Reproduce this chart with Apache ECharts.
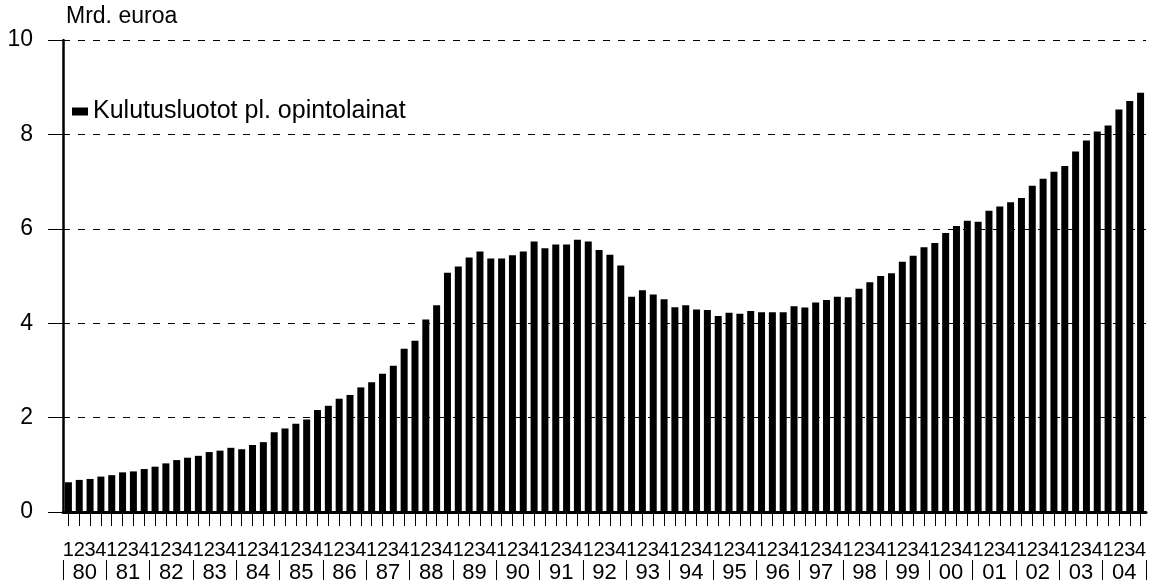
<!DOCTYPE html>
<html>
<head>
<meta charset="utf-8">
<title>Kulutusluotot</title>
<script src="https://cdn.jsdelivr.net/npm/echarts@6/dist/echarts.min.js"></script>
<style>
  html, body { margin: 0; padding: 0; background: #fff; }
  #chart { width: 1152px; height: 584px; }
</style>
</head>
<body>
<div id="chart"></div>
<script>
const years = ['80', '81', '82', '83', '84', '85', '86', '87', '88', '89', '90', '91', '92',
  '93', '94', '95', '96', '97', '98', '99', '00', '01', '02', '03', '04'];
const quarters = ['1', '2', '3', '4'];
const seriesName = 'Kulutusluotot pl. opintolainat';

// mrd. euroa, quarterly 1980Q1 .. 2004Q4
const values = [
  0.63, 0.68, 0.70, 0.75,  0.78, 0.84, 0.86, 0.91,  0.96, 1.03, 1.10, 1.15,  1.19, 1.27, 1.30, 1.36,
  1.33, 1.42, 1.48, 1.69,  1.77, 1.87, 1.96, 2.16,  2.25, 2.40, 2.48, 2.64,  2.75, 2.93, 3.10, 3.46,
  3.63, 4.08, 4.38, 5.07,  5.20, 5.39, 5.52, 5.37,  5.37, 5.44, 5.52, 5.73,  5.59, 5.67, 5.67, 5.77,
  5.73, 5.55, 5.45, 5.22,  4.56, 4.70, 4.61, 4.51,  4.34, 4.38, 4.29, 4.28,  4.15, 4.22, 4.20, 4.26,
  4.23, 4.23, 4.23, 4.36,  4.33, 4.44, 4.49, 4.56,  4.55, 4.73, 4.87, 5.00,  5.06, 5.30, 5.43, 5.61,
  5.70, 5.91, 6.06, 6.17,  6.15, 6.38, 6.47, 6.56,  6.65, 6.91, 7.06, 7.21,  7.33, 7.64, 7.87, 8.06,
  8.19, 8.53, 8.71, 8.88
];

const categories = years.flatMap(y => quarters.map(q => q + '/' + y));

const chart = echarts.init(document.getElementById('chart'), null, { renderer: 'canvas' });

chart.setOption({
  animation: false,
  backgroundColor: '#fff',
  textStyle: { fontFamily: 'Liberation Sans, Arial, sans-serif', color: '#000' },
  grid: { left: 63, top: 40, width: 1083, height: 472, containLabel: false },
  legend: {
    data: [seriesName],
    left: 72,
    top: 99,
    padding: 0,
    icon: 'rect',
    itemWidth: 16,
    itemHeight: 8,
    itemGap: 14,
    textStyle: { fontSize: 25, color: '#000', padding: [3, 0, 0, 0] }
  },
  xAxis: [
    {
      type: 'category',
      data: categories,
      axisLine: { show: true, lineStyle: { color: '#000', width: 3 } },
      axisTick: { show: true, interval: 0, alignWithLabel: true, length: 14, lineStyle: { color: '#000', width: 1 } },
      axisLabel: {
        interval: 0,
        margin: 28,
        fontSize: 20,
        color: '#000',
        formatter: v => v.split('/')[0]
      }
    },
    {
      type: 'category',
      data: years,
      position: 'bottom',
      offset: 48,
      axisLine: { show: false },
      axisTick: { show: true, length: 20, lineStyle: { color: '#000', width: 1 } },
      axisLabel: { interval: 0, margin: 2, fontSize: 22, color: '#000' }
    }
  ],
  yAxis: {
    type: 'value',
    min: 0,
    max: 10,
    interval: 2,
    name: 'Mrd. euroa',
    nameLocation: 'end',
    nameGap: 12,
    nameTextStyle: { fontSize: 23, color: '#000', align: 'left', padding: [0, 0, 0, 3] },
    axisLine: { show: true, lineStyle: { color: '#000', width: 2.5 } },
    axisTick: { show: true, length: 15, lineStyle: { color: '#000', width: 1 } },
    axisLabel: { fontSize: 23, margin: 30, color: '#000' },
    splitLine: { lineStyle: { color: '#000', width: 1, type: [7, 8] } }
  },
  series: [
    {
      name: seriesName,
      type: 'bar',
      data: values,
      barWidth: 7,
      itemStyle: { color: '#000' }
    }
  ]
});
</script>
</body>
</html>
